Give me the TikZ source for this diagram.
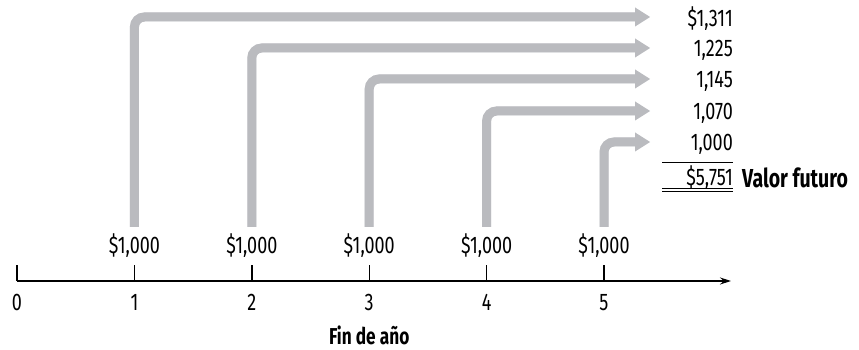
\documentclass[tikz,border=0pt]{standalone}
\usepackage{fontspec}
\setmainfont{Fira Sans}[FakeStretch=0.75]
\usepackage{xcolor}
\usetikzlibrary{arrows.meta,positioning}
\definecolor{flowgray}{RGB}{186,187,191}
\definecolor{shadowgray}{RGB}{229,229,231}

\begin{document}
\begin{tikzpicture}[
    x=1pt, y=1pt,
    font=\fontsize{24}{26}\selectfont,
    flow/.style={line width=9pt, draw=flowgray, rounded corners=10pt, -{Triangle[length=15pt, width=19pt, line width=0pt]}},
    flowshadow/.style={flow, draw=shadowgray, shift={(2.5,-2.5)}},
    axis/.style={line width=1.2pt, -{Stealth[length=11pt, width=7pt]}},
    yeartick/.style={line width=1.4pt},
    value/.style={anchor=east, inner sep=0pt},
    caption/.style={font=\fontsize{26}{28}\selectfont\bfseries},
    sumline/.style={line width=0.9pt},
]
    \useasboundingbox (0,0) rectangle (859,350);

    % Timeline
    \coordinate (t0) at (17,69);
    \coordinate (t1) at (134.4,69);
    \coordinate (t2) at (251.8,69);
    \coordinate (t3) at (369.2,69);
    \coordinate (t4) at (486.6,69);
    \coordinate (t5) at (604,69);
    \coordinate (axisend) at (731,69);
    \draw[axis] (t0) -- (axisend);
    \draw[yeartick] (t0) -- ++(0,16);
    \draw[yeartick] (t1) -- ++(0,16);
    \draw[yeartick] (t2) -- ++(0,16);
    \draw[yeartick] (t3) -- ++(0,16);
    \draw[yeartick] (t4) -- ++(0,16);
    \draw[yeartick] (t5) -- ++(0,16);

    % Year labels
    \node[below=10pt of t0] (n0) {0};
    \node[below=10pt of t1] (n1) {1};
    \node[below=10pt of t2] (n2) {2};
    \node[below=10pt of t3] (n3) {3};
    \node[below=10pt of t4] (n4) {4};
    \node[below=10pt of t5] (n5) {5};
    \node[caption, font=\fontsize{23}{25}\selectfont\bfseries] (fin) at (369.2,15) {Fin de año};

    % Payments
    \node (a1) at (134.4,104) {\$1,000};
    \node (a2) at (251.8,104) {\$1,000};
    \node (a3) at (369.2,104) {\$1,000};
    \node (a4) at (486.6,104) {\$1,000};
    \node (a5) at (604,104) {\$1,000};

    % Compounding arrows
    \coordinate (s1) at (134.4,123);
    \coordinate (s2) at (251.8,123);
    \coordinate (s3) at (369.2,123);
    \coordinate (s4) at (486.6,123);
    \coordinate (s5) at (604,123);
    \coordinate (e1) at (650,333);
    \coordinate (e2) at (650,302);
    \coordinate (e3) at (650,271);
    \coordinate (e4) at (650,239);
    \coordinate (e5) at (650,208);
    \draw[flowshadow] (s1) |- (e1);
    \draw[flowshadow] (s2) |- (e2);
    \draw[flowshadow] (s3) |- (e3);
    \draw[flowshadow] (s4) |- (e4);
    \draw[flowshadow] (s5) |- (e5);
    \draw[flow] (s1) |- (e1);
    \draw[flow] (s2) |- (e2);
    \draw[flow] (s3) |- (e3);
    \draw[flow] (s4) |- (e4);
    \draw[flow] (s5) |- (e5);

    % Future values
    \node[value] (v1) at (733,331) {\$1,311};
    \node[value] (v2) at (733,300) {1,225};
    \node[value] (v3) at (733,269) {1,145};
    \node[value] (v4) at (733,237) {1,070};
    \node[value] (v5) at (733,206) {1,000};
    \draw[sumline] (662,188) -- (733,188);
    \node[value] (total) at (733,172) {\$5,751};
    \node[caption, anchor=west, inner sep=0pt] (fv) at (742,172) {Valor futuro};
    \draw[sumline] (662,162) -- (733,162);
    \draw[sumline] (662,158.5) -- (733,158.5);

\end{tikzpicture}
\end{document}
